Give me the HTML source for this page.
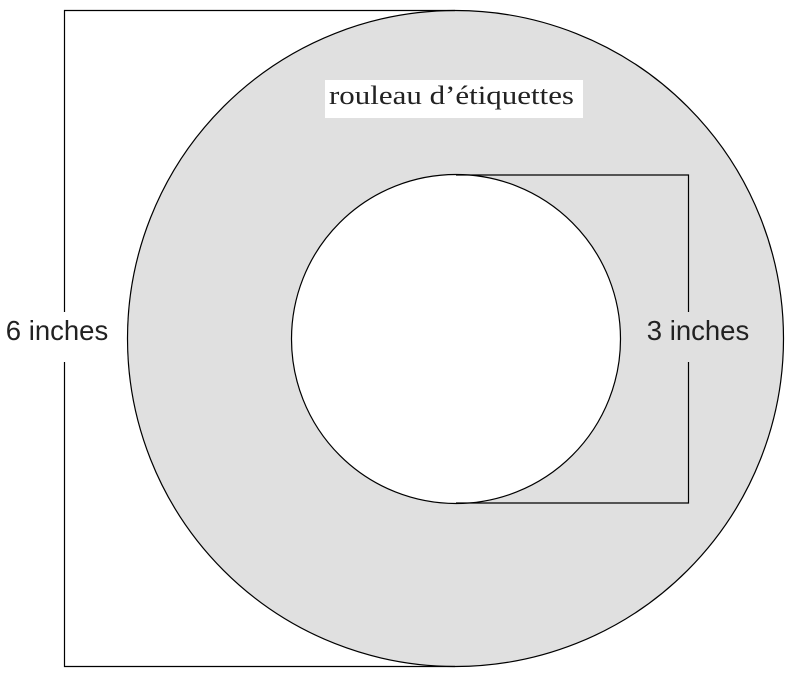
<!DOCTYPE html>
<html><head><meta charset="utf-8"><style>
html,body{margin:0;padding:0;background:#fff;}
svg{display:block}
</style></head><body>
<svg width="787" height="673" viewBox="0 0 787 673" xmlns="http://www.w3.org/2000/svg">
<circle cx="455.5" cy="338.5" r="328" fill="#e0e0e0" stroke="#000" stroke-width="1.2"/>
<circle cx="456" cy="339" r="164.5" fill="#fff" stroke="#000" stroke-width="1.2"/>
<g stroke="#000" stroke-width="1.2" fill="none">
<polyline points="455,10.5 64.5,10.5 64.5,312"/>
<polyline points="64.5,362 64.5,666.5 455,666.5"/>
<polyline points="456,175 688.5,175 688.5,312"/>
<polyline points="688.5,362 688.5,503 456,503"/>
</g>
<rect x="325" y="80" width="258" height="38" fill="#fff"/>
<text x="329" y="104" font-family="Liberation Serif, serif" font-size="26" textLength="245" lengthAdjust="spacingAndGlyphs" fill="#222">rouleau d’étiquettes</text>
<text x="57" y="340" font-family="Liberation Sans, sans-serif" font-size="27.5" text-anchor="middle" fill="#222">6 inches</text>
<text x="698" y="340" font-family="Liberation Sans, sans-serif" font-size="27.5" text-anchor="middle" fill="#222">3 inches</text>
</svg>
</body></html>
